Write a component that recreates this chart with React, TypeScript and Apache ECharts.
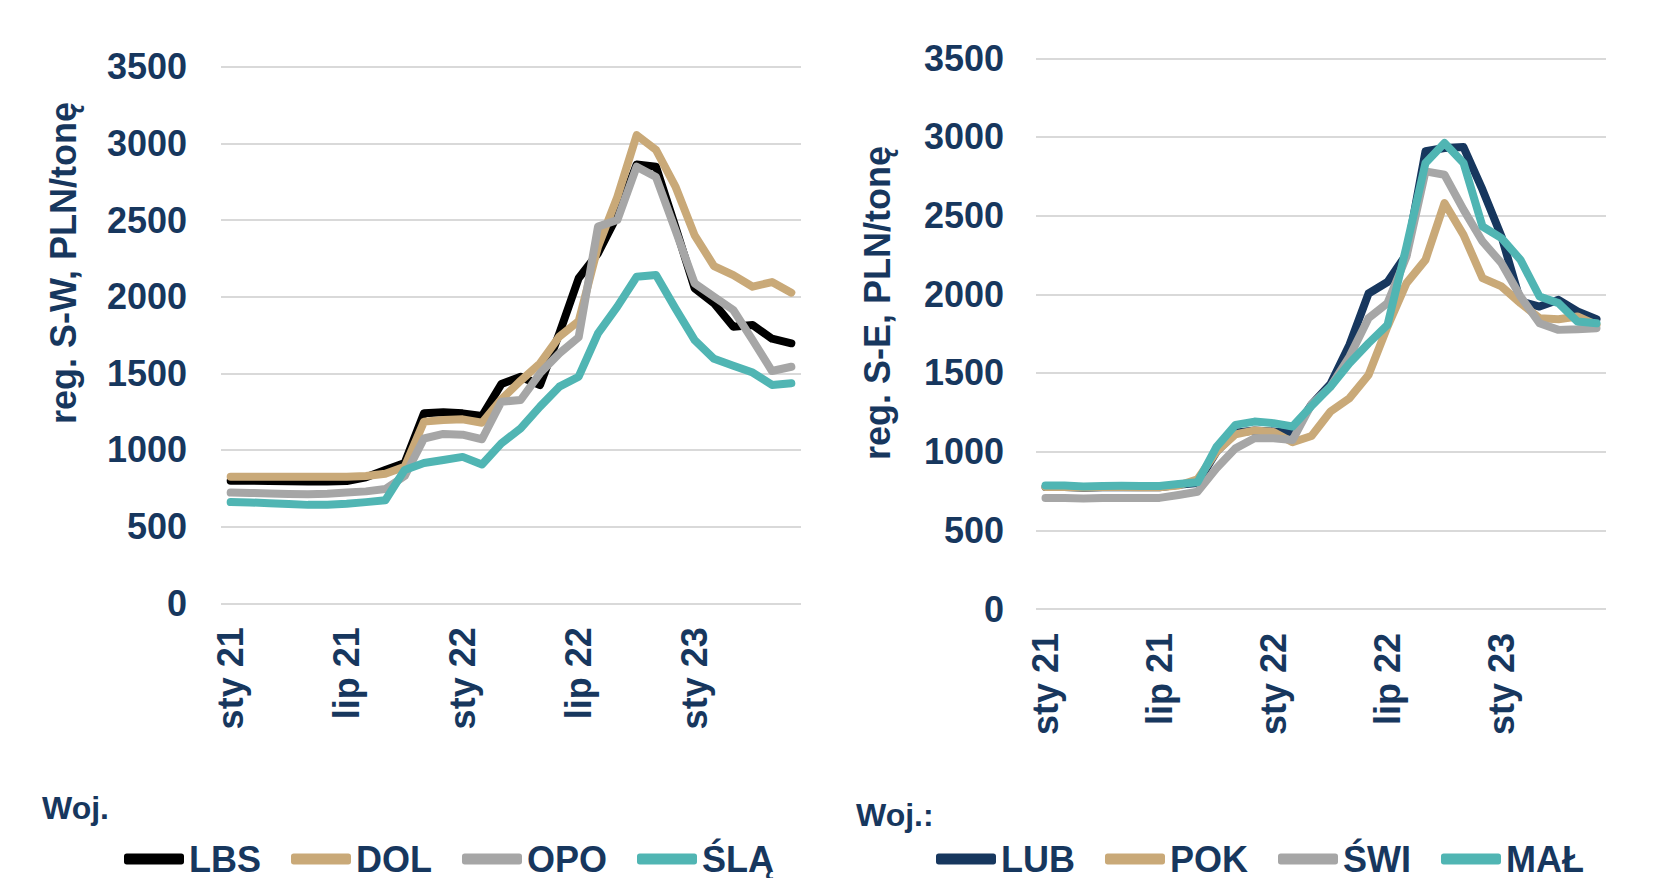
import React, { useEffect, useRef } from "react";
import * as echarts from "echarts";

const months: string[] = [
  "sty 21", "lut 21", "mar 21", "kwi 21", "maj 21", "cze 21", "lip 21", "sie 21", "wrz 21", "paź 21", "lis 21", "gru 21",
  "sty 22", "lut 22", "mar 22", "kwi 22", "maj 22", "cze 22", "lip 22", "sie 22", "wrz 22", "paź 22", "lis 22", "gru 22",
  "sty 23", "lut 23", "mar 23", "kwi 23", "maj 23", "cze 23",
];

// Panel S-W
const LBS = [800, 800, 798, 796, 795, 795, 798, 822, 870, 915, 1240, 1246, 1239, 1222, 1430, 1478, 1424, 1761, 2120, 2283, 2530, 2862, 2848, 2457, 2054, 1957, 1804, 1815, 1726, 1696];
const DOL = [825, 825, 825, 825, 825, 825, 826, 830, 845, 890, 1185, 1196, 1200, 1178, 1330, 1452, 1565, 1740, 1840, 2326, 2650, 3054, 2957, 2720, 2400, 2200, 2141, 2065, 2095, 2026];
const OPO = [722, 720, 716, 713, 712, 714, 722, 730, 745, 830, 1075, 1105, 1100, 1070, 1315, 1326, 1500, 1630, 1735, 2457, 2500, 2848, 2780, 2435, 2087, 2000, 1913, 1717, 1515, 1543];
const SLA = [660, 658, 652, 647, 642, 643, 650, 660, 672, 870, 915, 935, 955, 905, 1043, 1141, 1283, 1413, 1478, 1761, 1935, 2130, 2141, 1924, 1717, 1595, 1550, 1505, 1424, 1435];

// Panel S-E
const LUB = [775, 775, 770, 773, 775, 773, 773, 790, 800, 1000, 1120, 1135, 1128, 1118, 1300, 1430, 1680, 2005, 2078, 2255, 2909, 2930, 2936, 2665, 2368, 1954, 1922, 1965, 1891, 1842];
const POK = [775, 775, 772, 775, 775, 773, 774, 785, 825, 1000, 1110, 1135, 1125, 1060, 1100, 1255, 1340, 1487, 1795, 2071, 2219, 2580, 2378, 2103, 2050, 1944, 1848, 1842, 1859, 1806];
const SWI = [705, 705, 703, 705, 705, 705, 706, 725, 745, 894, 1021, 1085, 1085, 1074, 1300, 1413, 1604, 1848, 1944, 2240, 2781, 2760, 2538, 2336, 2198, 1986, 1816, 1774, 1778, 1785];
const MAL = [785, 785, 778, 782, 783, 782, 782, 794, 805, 1030, 1170, 1191, 1181, 1160, 1290, 1413, 1562, 1689, 1806, 2304, 2835, 2962, 2835, 2431, 2357, 2219, 1986, 1944, 1827, 1816];

const yTicks = { min: 0, max: 3500, interval: 500 };

const NAVY = "#17375E";
const TAN = "#C9A978";
const GRAY = "#A6A6A6";
const TEAL = "#50B5B3";
const BLACK = "#000000";
const FONT = "'Liberation Sans', Arial, sans-serif";

export default function App() {
  const ref = useRef<HTMLDivElement>(null);
  useEffect(() => {
    if (!ref.current) return;
    const chart = echarts.init(ref.current, null, { renderer: "svg" });
    const labelStyle = { fontSize: 36, fontWeight: "bold" as const, color: NAVY, fontFamily: FONT };
    const mkX = (gi: number) => ({
      type: "category" as const,
      gridIndex: gi,
      data: months,
      boundaryGap: true,
      axisLine: { show: false },
      axisTick: { show: false },
      axisLabel: { ...labelStyle, interval: 5, rotate: 90, margin: 24 },
      splitLine: { show: false },
    });
    const mkY = (gi: number, margin: number) => ({
      type: "value" as const,
      gridIndex: gi,
      min: yTicks.min,
      max: yTicks.max,
      interval: yTicks.interval,
      axisLine: { show: false },
      axisTick: { show: false },
      axisLabel: { ...labelStyle, margin, formatter: (v: number) => String(v) },
      splitLine: { lineStyle: { color: "#D9D9D9", width: 2 } },
    });
    const mkS = (name: string, data: number[], color: string, gi: number) => ({
      type: "line" as const,
      name,
      data,
      xAxisIndex: gi,
      yAxisIndex: gi,
      showSymbol: false,
      symbol: "none",
      color,
      lineStyle: { color, width: 8, cap: "round", join: "round" },
    });
    const legendCommon = {
      top: 841,
      padding: 0,
      itemWidth: 60,
      itemHeight: 11,
      itemGap: 30,
      icon: "roundRect",
      textStyle: { fontSize: 36, lineHeight: 36, fontWeight: "bold" as const, color: NAVY, fontFamily: FONT },
    };
    chart.setOption({
      animation: false,
      backgroundColor: "#ffffff",
      textStyle: { fontFamily: FONT },
      grid: [
        { left: 221, top: 66.7, width: 580, height: 536.6 },
        { left: 1036, top: 58.3, width: 570, height: 550.7 },
      ],
      xAxis: [mkX(0), mkX(1)],
      yAxis: [mkY(0, 34), mkY(1, 32)],
      legend: [
        { ...legendCommon, left: 124, data: ["LBS", "DOL", "OPO", "ŚLĄ"] },
        { ...legendCommon, left: 936, data: ["LUB", "POK", "ŚWI", "MAŁ"] },
      ],
      series: [
        mkS("LBS", LBS, BLACK, 0),
        mkS("DOL", DOL, TAN, 0),
        mkS("OPO", OPO, GRAY, 0),
        mkS("ŚLĄ", SLA, TEAL, 0),
        mkS("LUB", LUB, NAVY, 1),
        mkS("POK", POK, TAN, 1),
        mkS("ŚWI", SWI, GRAY, 1),
        mkS("MAŁ", MAL, TEAL, 1),
      ],
      graphic: [
        {
          type: "text",
          x: 63,
          y: 263,
          rotation: Math.PI / 2,
          style: { text: "reg. S-W, PLN/tonę", fill: NAVY, fontSize: 36, fontWeight: "bold", fontFamily: FONT, align: "center", verticalAlign: "middle" },
        },
        {
          type: "text",
          x: 877,
          y: 303,
          rotation: Math.PI / 2,
          style: { text: "reg. S-E, PLN/tonę", fill: NAVY, fontSize: 36, fontWeight: "bold", fontFamily: FONT, align: "center", verticalAlign: "middle" },
        },
        {
          type: "text",
          x: 42,
          y: 808,
          style: { text: "Woj.", fill: NAVY, fontSize: 32, fontWeight: "bold", fontFamily: FONT, align: "left", verticalAlign: "middle" },
        },
        {
          type: "text",
          x: 856,
          y: 815,
          style: { text: "Woj.:", fill: NAVY, fontSize: 32, fontWeight: "bold", fontFamily: FONT, align: "left", verticalAlign: "middle" },
        },
      ],
    });
    return () => chart.dispose();
  }, []);
  return (
    <div
      ref={ref}
      style={{ position: "fixed", left: 0, top: 0, width: 1653, height: 878, background: "#ffffff" }}
    />
  );
}
